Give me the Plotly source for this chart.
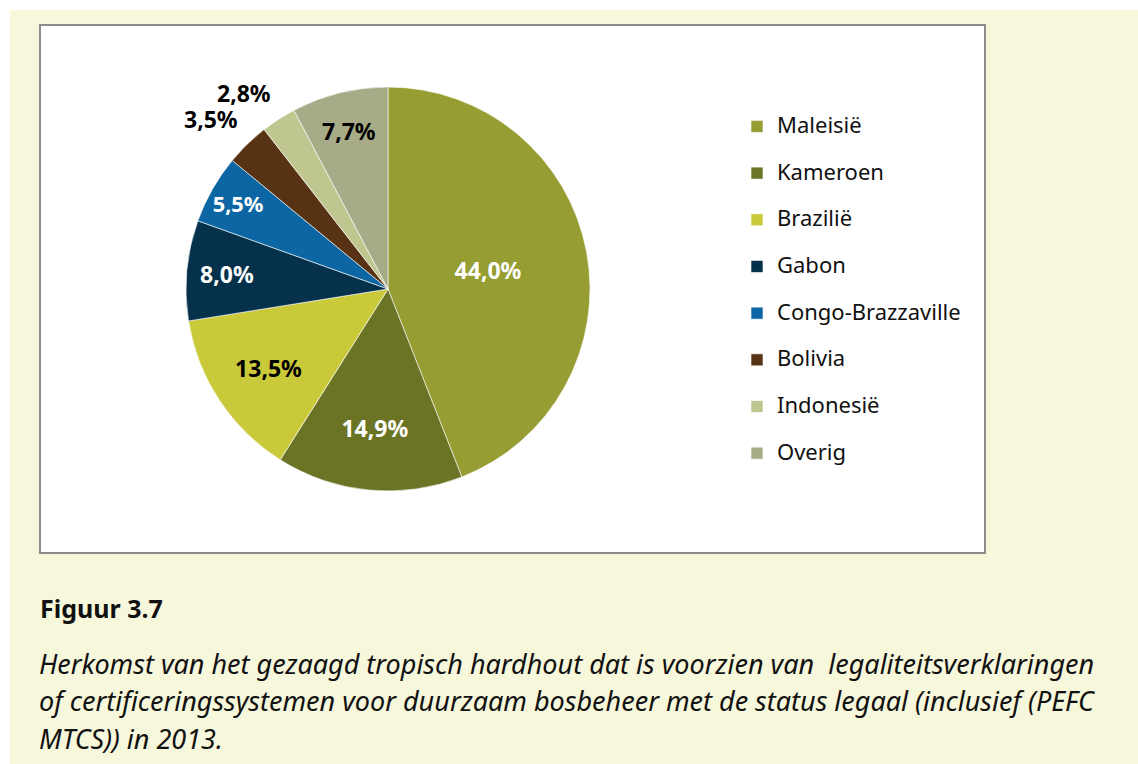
import math
import plotly.graph_objects as go

# ---- data ----
categories = ["Maleisië", "Kameroen", "Brazilië", "Gabon", "Congo-Brazzaville",
              "Bolivia", "Indonesië", "Overig"]
shares = [44.0, 14.9, 13.5, 8.0, 5.5, 3.5, 2.8, 7.7]
colors = ["#969d32", "#6b7424", "#c9c93a", "#05314b", "#0c66a4",
          "#573213", "#c0c690", "#a7ab88"]
label_colors = ["white", "white", "black", "white", "white", "black", "black", "black"]
outside_label = [False, False, False, False, False, True, True, False]

title_text = "Figuur 3.7"
caption_lines = [
    "Herkomst van het gezaagd tropisch hardhout dat is voorzien van\u00a0 legaliteitsverklaringen",
    "of certificeringssystemen voor duurzaam bosbeheer met de status legaal (inclusief (PEFC",
    "MTCS)) in 2013.",
]

W, H = 1138, 764
FONT = "Noto Sans"
CREAM = "#f7f7db"

# pie placement (pixels)
PIE_L, PIE_R, PIE_T, PIE_B = 186, 590, 87, 491


def px(x):
    return x / W


def py(y):
    return 1 - y / H


def fmt(v):
    return f"{v:.1f}".replace(".", ",") + "%"


legend_labels = [f"<span style='font-size:22px'>{c}</span><br> " for c in categories]
positions = ["none" if o else "inside" for o in outside_label]

fig = go.Figure(
    go.Pie(
        labels=legend_labels,
        values=shares,
        sort=False,
        direction="clockwise",
        rotation=0,
        marker=dict(colors=colors, line=dict(color="white", width=0.6)),
        texttemplate="%{value:.1f}%",
        textposition=positions,
        insidetextorientation="horizontal",
        insidetextfont=dict(family=FONT, size=23, color=label_colors, weight="bold"),
        hoverinfo="label+value",
        domain=dict(x=[px(PIE_L), px(PIE_R)], y=[py(PIE_B), py(PIE_T)]),
        showlegend=True,
    )
)

shapes = [
    dict(type="rect", xref="paper", yref="paper", x0=px(10), x1=1, y0=0, y1=py(10),
         fillcolor=CREAM, line=dict(width=0), layer="below"),
    dict(type="rect", xref="paper", yref="paper", x0=px(40), x1=px(985), y0=py(553), y1=py(25),
         fillcolor="white", line=dict(color="#8c8c8c", width=2), layer="below"),
]

annotations = []

# outside value labels for the small slices, placed from the pie geometry (no leader lines)
cx, cy = (PIE_L + PIE_R) / 2, (PIE_T + PIE_B) / 2
radius = min(PIE_R - PIE_L, PIE_B - PIE_T) / 2
total = sum(shares)
cum = 0.0
for v, out, col in zip(shares, outside_label, label_colors):
    mid = (cum + v / 2) / total * 2 * math.pi
    cum += v
    if not out:
        continue
    rr = radius * 1.05
    x = cx + rr * math.sin(mid)
    y = cy - rr * math.cos(mid)
    annotations.append(dict(
        text=f"<b>{fmt(v)}</b>", xref="paper", yref="paper", x=px(x), y=py(y),
        xanchor="right" if math.sin(mid) < 0 else "left",
        yanchor="bottom" if math.cos(mid) > 0 else "top",
        showarrow=False, font=dict(family=FONT, size=23, color=col),
    ))

annotations.append(
    dict(text=f"<b>{title_text}</b>", xref="paper", yref="paper", x=px(38), y=py(608),
         xanchor="left", yanchor="middle", showarrow=False,
         font=dict(family=FONT, size=25, color="#111111"))
)
for i, line in enumerate(caption_lines):
    annotations.append(
        dict(text=f"<i>{line}</i>", xref="paper", yref="paper", x=px(37), y=py(663 + i * 37.5),
             xanchor="left", yanchor="middle", showarrow=False,
             font=dict(family=FONT, size=27, color="#111111"))
    )

fig.update_layout(
    width=W, height=H,
    margin=dict(l=0, r=0, t=0, b=0),
    paper_bgcolor="white",
    plot_bgcolor="white",
    separators=",.",
    font=dict(family=FONT, color="#111111"),
    legend=dict(
        x=px(737), y=py(109), xanchor="left", yanchor="top",
        font=dict(family=FONT, size=16.8, color="#111111"),
        valign="top", bgcolor="rgba(0,0,0,0)", traceorder="normal",
    ),
    shapes=shapes,
    annotations=annotations,
)

fig.write_html("out.html")
